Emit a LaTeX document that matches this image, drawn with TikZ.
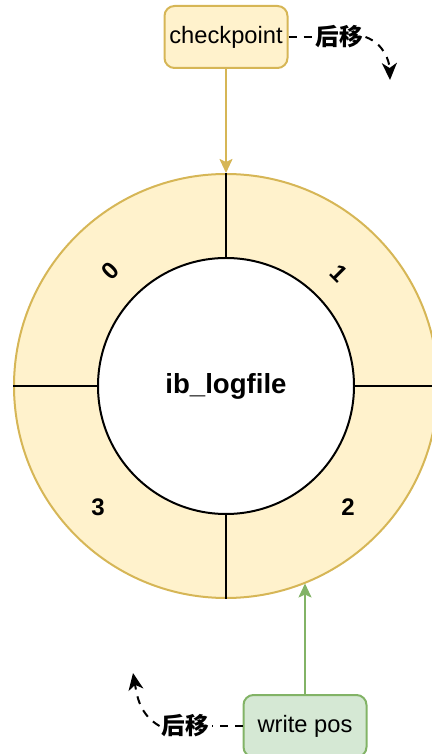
\documentclass[tikz,border=0pt]{standalone}
\usepackage{fontspec}
\setmainfont{Liberation Sans}
\newfontfamily\cjkFont{Noto Sans CJK SC}
\usepackage{xcolor}
\definecolor{RINGFILL}{HTML}{FFF2CC}
\definecolor{RINGLINE}{HTML}{D6B656}
\definecolor{WRITEFILL}{HTML}{D5E8D4}
\definecolor{WRITELINE}{HTML}{82B366}
\usepackage{tikz}
\usetikzlibrary{arrows.meta,positioning}
\newcommand\boxFont{\fontsize{11.85}{14}\selectfont}
\newcommand\segFont{\fontsize{12}{14}\selectfont\bfseries}
\newcommand\shiftFont{\fontsize{11.8}{14}\selectfont\cjkFont\bfseries}
\tikzset{
  box-style/.style = {
    rectangle, rounded corners=5pt, line width=1pt,
    draw=#1LINE, fill=#1FILL,
    minimum width=61.5pt,
    minimum height=31pt,
    inner sep=1pt,
    font=\boxFont
  },
  checkpoint-style/.style = {box-style=RING},
  write-style/.style = {box-style=WRITE},
  ring-style/.style = {
    circle, line width=1pt, inner sep=0pt, minimum size=#1
  },
  seg-style/.style = {font=\segFont, inner sep=1pt},
  shift-style/.style = {font=\shiftFont, inner sep=1pt},
  pos-edge/.style = {
    draw=#1, line width=1pt, ->,
    >={Stealth[length=7pt,width=6.5pt,inset=1.5pt]}
  },
  move-edge/.style = {
    draw, line width=1pt, dash pattern=on 4pt off 3.5pt,
    >={Stealth[length=8.5pt,width=7.5pt,inset=2.5pt]}
  }
}
\begin{document}
\begin{tikzpicture}
  \useasboundingbox (-113pt,-184pt) rectangle (103pt,193pt);
  % log file ring
  \node[ring-style=212pt, draw=RINGLINE, fill=RINGFILL] (ring) at (0,0) {};
  \node[ring-style=128pt, draw, fill=white, font=\fontsize{13.8}{16}\selectfont\bfseries]
    (logfile) at (0,0) {ib\_logfile};
  \foreach \a in {0,90,180,270}
    \draw[line width=1pt] (logfile.\a) -- (ring.\a);

  \node[seg-style, rotate=45]  (seg0) at (-58pt,57.5pt) {0};
  \node[seg-style, rotate=-45] (seg1) at (56.5pt,56.5pt) {1};
  \node[seg-style]             (seg2) at (61pt,-60.5pt) {2};
  \node[seg-style]             (seg3) at (-64pt,-60.5pt) {3};

  % checkpoint
  \node[checkpoint-style, above=52pt of ring.north] (checkpoint) {checkpoint};
  \path (checkpoint) edge[pos-edge=RINGLINE] (ring.north);
  \node[shift-style, right=12.5pt of checkpoint] (cpShift) {后移};
  \coordinate (cpTip) at (82pt,153pt);
  \draw[move-edge] (checkpoint) -- (cpShift);
  \draw[move-edge, ->] (cpShift.east) to[out=-20, in=92] (cpTip);

  % write pos
  \node[write-style, below=47.5pt of ring.south, xshift=39.5pt] (writepos) {write pos};
  \path (writepos.north) edge[pos-edge=WRITELINE] (writepos.north |- ring.-68.1);
  \node[shift-style, left=15.5pt of writepos] (wpShift) {后移};
  \coordinate (wpTip) at (-46.5pt,-143.5pt);
  \draw[move-edge] (writepos) -- (wpShift);
  \draw[move-edge, ->] (wpShift.west) to[out=150, in=-80] (wpTip);
\end{tikzpicture}
\end{document}
